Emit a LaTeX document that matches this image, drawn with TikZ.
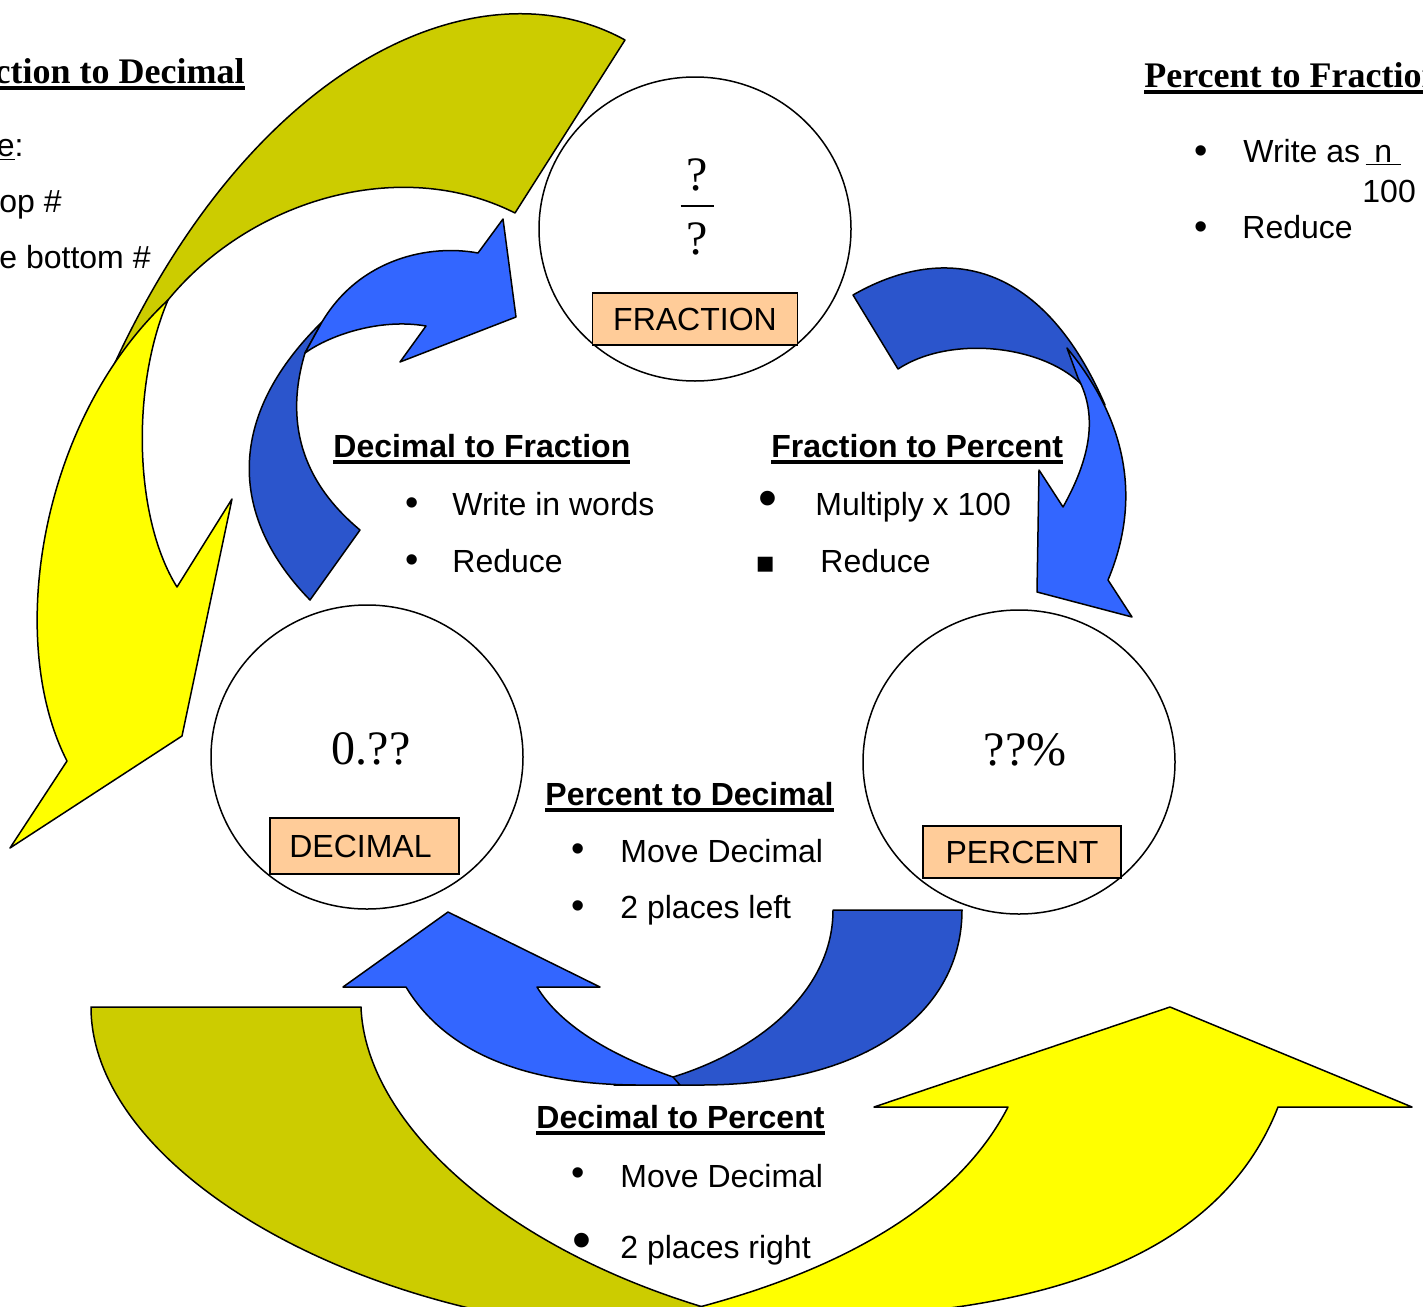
\documentclass[tikz,border=0pt]{standalone}
\usepackage{fontspec}
\setmainfont{Liberation Sans}
\newfontfamily\timesfont{Liberation Serif}
\newfontfamily\symfont{DejaVu Sans}
\usepackage{xcolor}
\definecolor{lightblue}{HTML}{3366FF}
\definecolor{darkblue}{HTML}{2B55CC}
\definecolor{olivearrow}{HTML}{CCCC00}
\definecolor{yellowarrow}{HTML}{FFFF00}
\definecolor{peach}{HTML}{FFCC99}
\usetikzlibrary{shapes.geometric}
% underline drawn as a rule: depth, thickness, text
\newcommand{\ulbar}[3]{\setbox0\hbox{#3}\rlap{\rule[#1]{\wd0}{#2}}\box0}

\begin{document}
\begin{tikzpicture}[x=0.5pt, y=-0.5pt,
  every node/.style={font=\fontsize{16}{19}\selectfont, inner sep=0pt},
  band/.style={draw, line width=0.75pt, line join=round},
  ring/.style={draw, ellipse, line width=0.75pt, minimum width=156pt, minimum height=152pt},
  tag/.style={draw, fill=peach, line width=0.75pt},
  sign/.style={font=\timesfont\fontsize{24}{28}\selectfont},
  title/.style={font=\fontsize{16}{19}\selectfont\bfseries, anchor=base west},
  item/.style={anchor=base west},
  dot/.style={font=\fontsize{19}{19}\selectfont},
  bigdot/.style={font=\fontsize{27}{27}\selectfont}]
  \useasboundingbox (0,0) rectangle (1423,1306);
  \clip (0,0) rectangle (1423,1306);

  % Yellow arrow: fraction to decimal
  \draw[band, fill=olivearrow] (625,40) .. controls (480,-40) and (250,60) .. (108,378) -- (168,300) .. controls (250,200) and (400,155) .. (515,213) -- cycle;
  \draw[band, fill=yellowarrow] (168,300) .. controls (40,420) and (5,640) .. (67,761) -- (10,848) -- (182,736) -- (232,499) -- (177,587) .. controls (135,520) and (130,390) .. (168,300) -- cycle;
  % Yellow arrow: decimal to percent
  \draw[band, fill=olivearrow] (91,1007) -- (361,1007) .. controls (365,1120) and (500,1250) .. (720,1312) -- (560,1325) .. controls (300,1290) and (91,1150) .. (91,1007) -- cycle;
  \draw[band, fill=yellowarrow] (1008,1107) -- (874,1107) -- (1170,1007) -- (1412,1107) -- (1278,1107) .. controls (1230,1230) and (1100,1300) .. (880,1315) -- (680,1312) .. controls (850,1270) and (960,1200) .. (1008,1107) -- cycle;

  % Blue arrows round the circles
  \draw[band, fill=darkblue] (310,600) .. controls (232,520) and (222,420) .. (322,322) -- (305,353) .. controls (285,420) and (300,480) .. (360,530) -- cycle;
  \draw[band, fill=lightblue] (305,353) .. controls (330,335) and (380,318) .. (426,326) -- (400,362) -- (516,317) -- (503,219) -- (478,253) .. controls (430,244) and (360,258) .. (322,322) -- cycle;
  \draw[band, fill=darkblue] (853,295) .. controls (940,245) and (1040,255) .. (1105,405) -- (1080,383) .. controls (1040,345) and (950,335) .. (898,369) -- cycle;
  \draw[band, fill=lightblue] (1067,348) .. controls (1110,400) and (1150,480) .. (1108,580) -- (1132,617) -- (1037,592) -- (1039,470) -- (1063,507) .. controls (1095,450) and (1095,410) .. (1078,378) -- cycle;
  \draw[band, fill=darkblue] (833,910) -- (962,910) .. controls (962,1010) and (870,1085) .. (700,1085) -- (614,1085) -- (673,1077) .. controls (760,1050) and (833,990) .. (833,910) -- cycle;
  \draw[band, fill=lightblue] (406,987) .. controls (450,1060) and (540,1085) .. (640,1085) -- (680,1085) -- (673,1077) .. controls (610,1055) and (560,1025) .. (537,987) -- (600,987) -- (448,912) -- (343,987) -- cycle;

  % Circles with their name tags
  \node[ring] (fraction) at (695,229) {};
  \node[ring] (decimal) at (367,757) {};
  \node[ring] (percent) at (1019,762) {};
  \node[tag, minimum width=102.5pt, minimum height=26pt] (fractag) at ([yshift=-45pt]fraction.center) {FRACTION};
  \node[tag, minimum width=94.5pt, minimum height=28pt] (dectag) at ([xshift=-1.25pt, yshift=-44.5pt]decimal.center) {\kern-4pt DECIMAL};
  \node[tag, minimum width=99pt, minimum height=26pt] (pertag) at ([xshift=1.5pt, yshift=-45pt]percent.center) {PERCENT};
  \node[sign] (fracsign) at ([xshift=1pt, yshift=11pt]fraction.center) {\shortstack{?\\[3.5pt]\rule{16.5pt}{1pt}\\[5pt]?}};
  \node[sign] (decsign) at ([xshift=2pt, yshift=4pt]decimal.center) {0.??};
  \node[sign] (persign) at ([xshift=3pt, yshift=6pt]percent.center) {??\%};

  % Decimal to Fraction
  \node[title] (dtof) at (333,457) {\ulbar{-3.35pt}{1.65pt}{Decimal to Fraction}};
  \node[dot] (dtofa) at (412,507) {•};
  \node[item] (dtofatext) at (452,515) {Write in words};
  \node[dot] (dtofb) at (412,564) {•};
  \node[item] (dtofbtext) at (452,572) {Reduce};

  % Fraction to Percent
  \node[title] (ftop) at (771,457) {\ulbar{-3.35pt}{1.65pt}{Fraction to Percent}};
  \node[bigdot] (ftopa) at (768,504) {•};
  \node[item] (ftopatext) at (815,515) {Multiply x 100};
  \node[font=\symfont\fontsize{15}{15}\selectfont] (ftopb) at (766,565) {▪};
  \node[item] (ftopbtext) at (820,572) {Reduce};

  % Percent to Decimal
  \node[title] (ptod) at (545,805) {\ulbar{-3.35pt}{1.65pt}{Percent to Decimal}};
  \node[dot] (ptoda) at (578,853) {•};
  \node[item] (ptodatext) at (620,862) {Move Decimal};
  \node[dot] (ptodb) at (578,910) {•};
  \node[item] (ptodbtext) at (620,918) {2 places left};

  % Decimal to Percent
  \node[title] (dtop) at (536,1128) {\ulbar{-3.35pt}{1.65pt}{Decimal to Percent}};
  \node[dot] (dtopa) at (578,1177) {•};
  \node[item] (dtopatext) at (620,1187) {Move Decimal};
  \node[bigdot] (dtopb) at (582,1246) {•};
  \node[item] (dtopbtext) at (620,1258) {2 places right};

  % Fraction to Decimal (cut at the left edge)
  \node[font=\timesfont\bfseries\fontsize{18}{21}\selectfont, anchor=base east] (ftod) at (245,83) {\ulbar{-3.7pt}{2pt}{ction to Decimal}};
  \node[anchor=base east] (ftoda) at (24,156) {\underline{e}:};
  \node[anchor=base east] (ftodb) at (62,212) {op \#};
  \node[anchor=base east] (ftodc) at (151,268) {e bottom \#};

  % Percent to Fraction (cut at the right edge)
  \node[font=\timesfont\bfseries\fontsize{18}{21}\selectfont, anchor=base west] (ptof) at (1144,87) {\ulbar{-3.4pt}{2pt}{Percent to Fraction}};
  \node[dot] (ptofa) at (1201,155) {•};
  \node[item] (ptofatext) at (1243,162) {Write as\,\underline{\ n\ }};
  \node[item] (ptofden) at (1362,202) {100};
  \node[dot] (ptofb) at (1201,231) {•};
  \node[item] (ptofbtext) at (1242,238) {Reduce};
\end{tikzpicture}
\end{document}
